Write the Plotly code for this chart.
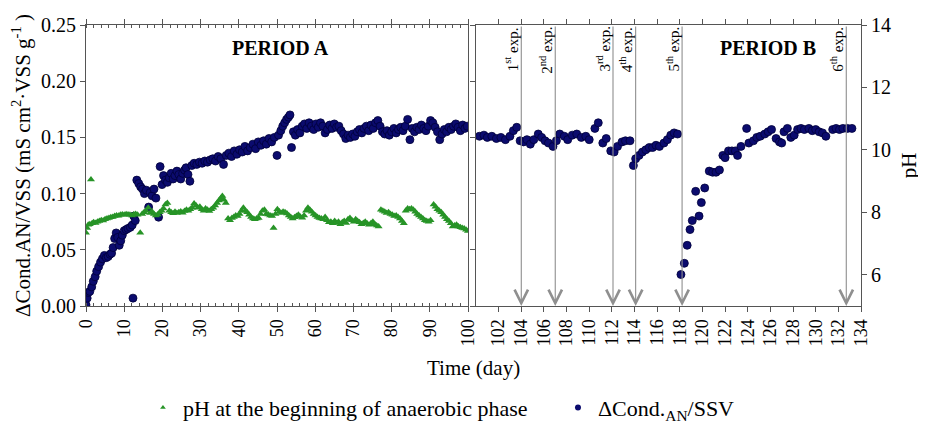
import plotly.graph_objects as go

# ---------------- data ----------------
# Period A: conductivity difference / VSS
days_a_cond = [0.0, 0.3, 0.6, 1.0, 1.5, 1.9, 2.4, 2.8, 3.3, 3.8,
               4.3, 4.8, 5.3, 5.8, 6.3, 6.7, 7.1, 7.5, 7.9, 8.3,
               8.7, 9.1, 9.5, 10.0, 10.5, 11.0, 11.6, 12.1, 12.3, 12.5,
               12.9, 13.3, 13.8, 14.3, 14.8, 15.3, 15.8, 16.4, 16.8, 17.3,
               17.8, 18.3, 19.0, 19.4, 19.9, 20.3, 20.8, 21.3, 21.8, 22.3,
               22.8, 23.3, 23.8, 24.3, 24.8, 25.3, 25.8, 26.2, 26.7, 27.2,
               27.7, 28.3, 29.0, 29.7, 30.4, 31.1, 31.8, 32.5, 33.2, 33.9,
               34.6, 35.3, 36.0, 36.7, 37.4, 38.1, 38.8, 39.5, 40.2, 40.9,
               41.6, 42.3, 43.0, 43.7, 44.4, 45.1, 45.8, 46.5, 47.2, 47.9,
               48.6, 49.3, 50.0, 50.4, 51.0, 51.5, 52.0, 52.5, 53.0, 53.4,
               53.8, 54.3, 54.8, 55.4, 56.0, 56.6, 57.2, 57.8, 58.4, 59.0,
               59.6, 60.2, 60.8, 61.4, 62.0, 62.6, 63.2, 63.8, 64.4, 65.0,
               65.6, 66.2, 66.8, 67.4, 68.0, 68.6, 69.2, 69.8, 70.4, 71.0,
               71.6, 72.2, 72.8, 73.4, 74.0, 74.6, 75.2, 75.8, 76.4, 77.0,
               77.6, 78.2, 78.8, 79.4, 80.0, 80.6, 81.2, 81.8, 82.4, 83.0,
               83.6, 84.2, 84.8, 85.4, 86.0, 86.6, 87.2, 87.8, 88.4, 89.0,
               89.6, 90.2, 90.8, 91.4, 92.0, 92.6, 93.2, 93.8, 94.4, 95.0,
               95.6, 96.2, 96.8, 97.4, 98.0, 98.6, 99.2, 99.8]
cond_a = [0.001, 0.007, 0.012, 0.013, 0.017, 0.022, 0.026, 0.031, 0.035, 0.039,
          0.042, 0.045, 0.043, 0.044, 0.046, 0.047, 0.052, 0.060, 0.065, 0.061,
          0.054, 0.058, 0.063, 0.067, 0.068, 0.069, 0.070, 0.072, 0.007, 0.080,
          0.076, 0.112, 0.109, 0.106, 0.104, 0.100, 0.103, 0.088, 0.101, 0.098,
          0.104, 0.096, 0.079, 0.124, 0.108, 0.116, 0.112, 0.110, 0.114, 0.118,
          0.113, 0.116, 0.120, 0.117, 0.113, 0.118, 0.121, 0.123, 0.117, 0.111,
          0.125, 0.127, 0.126, 0.128, 0.127, 0.129, 0.128, 0.130, 0.131, 0.129,
          0.133, 0.131, 0.126, 0.134, 0.136, 0.133, 0.138, 0.135, 0.139, 0.137,
          0.142, 0.138, 0.141, 0.144, 0.140, 0.146, 0.143, 0.147, 0.144, 0.149,
          0.146, 0.150, 0.134, 0.152, 0.156, 0.160, 0.163, 0.166, 0.168, 0.170,
          0.141, 0.155, 0.152, 0.157, 0.154, 0.160, 0.162, 0.158, 0.163, 0.160,
          0.157, 0.162, 0.159, 0.163, 0.160, 0.154, 0.157, 0.161, 0.158, 0.162,
          0.159, 0.160, 0.156, 0.153, 0.149, 0.152, 0.150, 0.153, 0.151, 0.155,
          0.157, 0.154, 0.158, 0.160, 0.156, 0.161, 0.158, 0.163, 0.165, 0.160,
          0.155, 0.153, 0.156, 0.152, 0.155, 0.158, 0.154, 0.157, 0.159, 0.156,
          0.160, 0.166, 0.148, 0.158, 0.155, 0.159, 0.157, 0.161, 0.158, 0.156,
          0.160, 0.165, 0.163, 0.159, 0.155, 0.148, 0.153, 0.157, 0.155, 0.159,
          0.157, 0.160, 0.162, 0.159, 0.156, 0.161, 0.158, 0.160]

# Period A: pH at the beginning of the anaerobic phase
days_a_ph = [0.0, 0.3, 0.6, 1.0, 1.3, 1.6, 2.0, 2.5, 3.0, 3.5,
             4.0, 4.5, 5.0, 5.5, 6.0, 6.5, 7.0, 7.5, 8.0, 8.5,
             9.0, 9.5, 10.0, 10.5, 11.0, 11.5, 12.0, 12.5, 13.0, 13.5,
             14.2, 14.7, 15.2, 15.7, 16.3, 16.8, 17.3, 17.8, 18.3, 18.8,
             19.3, 19.8, 20.3, 20.8, 21.3, 21.8, 22.3, 22.8, 23.3, 23.8,
             24.3, 24.8, 25.3, 25.8, 26.3, 26.8, 27.3, 27.8, 28.3, 28.8,
             29.3, 29.8, 30.3, 30.8, 31.3, 31.8, 32.3, 32.8, 33.3, 33.8,
             34.3, 34.8, 35.3, 35.7, 36.1, 36.6, 37.2, 37.7, 38.2, 38.7,
             39.2, 39.7, 40.2, 40.7, 41.2, 41.7, 42.2, 42.7, 43.2, 43.7,
             44.2, 44.7, 45.2, 45.7, 46.2, 46.7, 47.2, 47.7, 48.2, 48.7,
             49.1, 49.6, 50.1, 50.6, 51.1, 51.6, 52.1, 52.6, 53.1, 53.6,
             54.1, 54.6, 55.1, 55.6, 56.1, 56.6, 57.1, 57.6, 58.1, 58.6,
             59.1, 59.6, 60.1, 60.6, 61.1, 61.6, 62.1, 62.6, 63.1, 63.6,
             64.1, 64.6, 65.1, 65.6, 66.1, 66.6, 67.1, 67.6, 68.1, 68.6,
             69.1, 69.6, 70.1, 70.6, 71.1, 71.6, 72.1, 72.6, 73.1, 73.6,
             74.1, 74.6, 75.1, 75.6, 76.1, 76.6, 77.2, 77.7, 78.2, 78.7,
             79.2, 79.7, 80.2, 80.7, 81.2, 81.7, 82.2, 82.7, 83.2, 83.7,
             84.2, 84.7, 85.2, 85.7, 86.2, 86.7, 87.2, 87.7, 88.2, 88.7,
             89.2, 89.7, 90.2, 91.0, 91.5, 92.0, 92.5, 93.0, 93.5, 94.0,
             94.5, 95.0, 95.5, 96.0, 96.5, 97.0, 97.5, 98.0, 98.5, 99.0, 99.5, 100.0]
ph_a = [7.35, 7.50, 7.60, 7.62, 9.05, 7.65, 7.68, 7.66, 7.70, 7.72,
        7.75, 7.74, 7.78, 7.80, 7.82, 7.84, 7.85, 7.88, 7.90, 7.89,
        7.92, 7.93, 7.92, 7.94, 7.93, 7.92, 7.90, 7.93, 7.95, 7.92,
        7.35, 7.95, 8.00, 8.05, 8.15, 7.98, 8.02, 7.95, 7.90, 7.93,
        8.00, 8.05, 8.12, 8.25, 8.30, 8.05, 8.00, 7.97, 8.02, 7.98,
        8.00, 8.03, 7.99, 8.04, 8.08, 8.05, 8.10, 8.15, 8.28, 8.22,
        8.15, 8.18, 8.10, 8.05, 8.12, 8.08, 8.04, 8.10, 8.15, 8.22,
        8.30, 8.38, 8.45, 8.52, 8.40, 8.30, 7.80, 7.75, 7.82, 7.85,
        7.90, 7.88, 7.95, 8.05, 8.15, 8.05, 8.00, 7.92, 7.85, 7.80,
        7.78, 7.80, 7.82, 7.95, 8.05, 8.08, 7.95, 7.93, 7.90, 7.88,
        7.50, 7.95, 8.10, 8.03, 7.98, 8.02, 8.00, 7.96, 7.90, 7.85,
        7.80, 7.84, 7.88, 7.92, 7.86, 7.83, 7.90, 8.05, 8.15, 8.08,
        8.02, 7.95, 7.90, 7.85, 7.82, 7.80, 7.78, 7.85, 7.75, 7.68,
        7.70, 7.65, 7.72, 7.66, 7.70, 7.62, 7.68, 7.72, 7.66, 7.78,
        7.82, 7.75, 7.70, 7.78, 7.72, 7.68, 7.62, 7.66, 7.70, 7.64,
        7.60, 7.65, 7.70, 7.62, 7.58, 7.55, 8.08, 8.05, 8.02, 7.98,
        8.00, 7.95, 7.92, 7.88, 7.90, 7.85, 7.80, 7.72, 7.65, 8.05,
        8.12, 8.10, 8.12, 8.08, 8.02, 7.95, 7.90, 7.85, 7.80, 7.75,
        7.72, 7.70, 7.75, 8.25, 8.18, 8.10, 8.05, 8.00, 7.92, 7.85,
        7.78, 7.72, 7.65, 7.55, 7.58, 7.60, 7.55, 7.52, 7.50, 7.48, 7.44, 7.40]

# Period B: conductivity difference / VSS
days_b_cond = [100.3, 100.7, 101.0, 101.4, 101.8, 102.2, 102.6, 103.0, 103.3, 103.6,
               103.9, 104.2, 104.5, 104.8, 105.1, 105.5, 105.8, 106.1, 106.4, 106.8,
               107.1, 107.4, 107.8, 108.1, 108.5, 108.9, 109.3, 109.7, 110.0, 110.5,
               110.8, 111.2, 111.5, 111.9, 112.2, 112.5, 112.9, 113.2, 113.6, 113.9,
               114.1, 114.4, 114.7, 115.0, 115.3, 115.6, 115.9, 116.2, 116.6, 116.9,
               117.2, 117.5, 117.8, 118.1, 118.4, 118.65, 118.9, 119.1, 119.4, 119.7,
               119.9, 120.2, 120.6, 120.9, 121.2, 121.5, 121.8, 122.0, 122.3, 122.6,
               122.9, 123.1, 123.4, 123.9, 124.1, 124.5, 124.8, 125.1, 125.5, 125.8,
               126.1, 126.5, 126.8, 127.0, 127.2, 127.5, 127.8, 128.1, 128.4, 128.7,
               129.0, 129.4, 129.7, 130.0, 130.3, 130.6, 130.9, 131.5, 131.8, 132.1,
               132.4, 132.8, 133.2]
cond_b = [0.151, 0.152, 0.150, 0.151, 0.149, 0.150, 0.148, 0.151, 0.156, 0.159,
          0.147, 0.146, 0.148, 0.144, 0.148, 0.153, 0.150, 0.147, 0.145, 0.142,
          0.147, 0.153, 0.151, 0.148, 0.152, 0.153, 0.150, 0.151, 0.148, 0.158,
          0.163, 0.145, 0.149, 0.138, 0.137, 0.142, 0.146, 0.147, 0.147, 0.125,
          0.131, 0.134, 0.137, 0.139, 0.141, 0.141, 0.143, 0.142, 0.145, 0.148,
          0.152, 0.154, 0.153, 0.028, 0.038, 0.054, 0.068, 0.076, 0.102, 0.080,
          0.092, 0.105, 0.120, 0.119, 0.119, 0.121, 0.134, 0.132, 0.138, 0.138,
          0.138, 0.134, 0.142, 0.158, 0.145, 0.147, 0.150, 0.151, 0.153, 0.155,
          0.157, 0.149, 0.146, 0.145, 0.155, 0.158, 0.150, 0.152, 0.157, 0.158,
          0.157, 0.158, 0.156, 0.157, 0.155, 0.154, 0.151, 0.157, 0.158, 0.157,
          0.158, 0.158, 0.158]

# Period B: pH at the beginning of the anaerobic phase
days_b_ph = [100.3, 100.7, 101.1, 101.5, 101.9, 102.3, 102.7, 103.1, 103.4, 103.7,
             104.0, 104.3, 104.6, 104.9, 105.2, 105.5, 105.8, 106.1, 106.4, 106.7,
             107.0, 107.2, 107.5, 107.8, 108.1, 108.4, 108.7, 109.0, 109.3, 109.6,
             109.9, 110.2, 110.5, 110.8, 111.1, 111.4, 111.7, 112.0, 112.3, 112.6,
             112.9, 113.2, 113.5, 113.8, 114.0, 114.2, 114.5, 114.8, 115.1, 115.4,
             115.7, 116.0, 116.3, 116.6, 116.9, 117.2, 117.5, 117.8, 118.1, 118.4,
             118.7, 119.0, 119.3, 119.6, 119.9, 120.1, 120.6, 120.9, 121.2, 121.5,
             121.8, 122.1, 122.4, 122.7, 123.0, 123.3, 123.6, 123.9, 124.2, 124.5,
             124.8, 125.1, 125.4, 125.7, 126.0, 126.3, 126.6, 126.9, 127.2, 127.6,
             127.9, 128.2, 128.5, 128.8, 129.1, 129.4, 129.7, 130.0, 130.3, 130.6,
             130.9, 131.2, 133.1]
ph_b = [7.45, 7.42, 7.40, 7.38, 7.40, 7.36, 7.35, 7.33, 7.28, 7.18,
        7.42, 7.35, 7.55, 7.58, 7.57, 7.58, 7.56, 7.55, 7.52, 7.50,
        7.58, 7.82, 7.48, 7.46, 7.47, 7.45, 7.42, 7.43, 7.42, 7.42,
        7.43, 7.42, 7.45, 7.47, 7.52, 7.48, 7.47, 7.50, 7.48, 7.46,
        7.52, 7.48, 7.45, 7.46, 7.30, 7.98, 7.62, 7.65, 7.63, 7.55,
        7.48, 7.52, 7.45, 7.36, 7.42, 7.40, 7.38, 7.35, 7.45, 7.50,
        7.48, 7.55, 7.52, 7.72, 7.50, 7.62, 8.42, 7.83, 7.52, 7.55,
        7.55, 7.55, 7.53, 7.52, 7.50, 7.48, 7.52, 7.45, 7.38, 7.36,
        7.35, 7.38, 7.42, 7.45, 7.48, 7.50, 7.52, 7.80, 7.88, 8.18,
        8.12, 8.08, 8.02, 7.98, 7.92, 7.88, 7.80, 7.82, 7.80, 7.78,
        7.76, 7.78, 7.42]

# experiment markers (day)
exp_days = [104.0, 107.0, 112.1, 114.1, 118.2, 132.7]
exp_labels = ["1<sup>st</sup> exp.", "2<sup>nd</sup> exp.", "3<sup>rd</sup> exp.",
              "4<sup>th</sup> exp.", "5<sup>th</sup> exp.", "6<sup>th</sup> exp."]

xticks_a = [0, 10, 20, 30, 40, 50, 60, 70, 80, 90, 100]
xticks_b = [102, 104, 106, 108, 110, 112, 114, 116, 118, 120, 122, 124, 126, 128, 130, 132, 134]
yticks_cond = [0.00, 0.05, 0.10, 0.15, 0.20, 0.25]
yticks_ph = [6, 8, 10, 12, 14]

# ---------------- styling ----------------
FONT = "Liberation Serif"
NAVY = "#0b0b6e"
GREEN = "#279427"
GRAY = "#8f8f8f"
AXC = "#555555"

fig = go.Figure()

cond_marker = dict(symbol="circle", size=8, color=NAVY, line=dict(color="#00003a", width=0.8))
ph_marker = dict(symbol="triangle-up", size=7, color=GREEN, line=dict(width=0))

fig.add_trace(go.Scatter(x=days_a_ph, y=ph_a, mode="markers", marker=ph_marker,
                         xaxis="x", yaxis="y2", showlegend=False))
fig.add_trace(go.Scatter(x=days_a_cond, y=cond_a, mode="markers", marker=cond_marker,
                         xaxis="x", yaxis="y", showlegend=False))
fig.add_trace(go.Scatter(x=days_b_ph, y=ph_b, mode="markers", marker=ph_marker,
                         xaxis="x2", yaxis="y2", showlegend=False))
fig.add_trace(go.Scatter(x=days_b_cond, y=cond_b, mode="markers", marker=cond_marker,
                         xaxis="x2", yaxis="y3", showlegend=False))

# legend-only entries (small symbols, as in the original legend)
fig.add_trace(go.Scatter(x=[None], y=[None], mode="markers",
                         marker=dict(symbol="triangle-up", size=5, color=GREEN),
                         name="pH at the beginning of anaerobic phase", legend="legend"))
fig.add_trace(go.Scatter(x=[None], y=[None], mode="markers",
                         marker=dict(symbol="circle", size=6, color=NAVY),
                         name="ΔCond.<sub>AN</sub>/SSV", legend="legend2"))

annotations = []
for d, lab in zip(exp_days, exp_labels):
    annotations.append(dict(x=d, y=0.0, xref="x2", yref="y3",
                            ax=d, ay=0.25, axref="x2", ayref="y3",
                            text="", showarrow=True, arrowhead=5, arrowsize=2.4,
                            arrowwidth=1.1, arrowcolor=GRAY))
    annotations.append(dict(x=d, y=0.25, xref="x2", yref="y3", text=lab,
                            textangle=-90, xanchor="right", yanchor="top",
                            xshift=1, yshift=0, showarrow=False,
                            font=dict(family=FONT, size=15, color="black")))

annotations.append(dict(x=51, y=0.2295, xref="x", yref="y", text="<b>PERIOD A</b>",
                        showarrow=False, font=dict(family=FONT, size=20, color="black")))
annotations.append(dict(x=125.8, y=0.2295, xref="x2", yref="y3", text="<b>PERIOD B</b>",
                        showarrow=False, font=dict(family=FONT, size=20, color="black")))
annotations.append(dict(x=0.5, y=-0.222, xref="paper", yref="paper", text="Time (day)",
                        yanchor="middle", xanchor="center",
                        showarrow=False, font=dict(family=FONT, size=21, color="black")))

axis_common = dict(showgrid=False, zeroline=False, showline=True, linecolor=AXC,
                   linewidth=1, tickcolor=AXC, automargin=False)

fig.update_layout(
    width=918, height=416,
    margin=dict(l=78, r=65, t=17, b=118, autoexpand=False),
    paper_bgcolor="white", plot_bgcolor="white",
    font=dict(family=FONT, size=17, color="black"),
    xaxis=dict(domain=[0, 0.4929], range=[0, 100], tickmode="array", tickvals=xticks_a,
               ticktext=[str(v) for v in xticks_a],
               ticks="outside", ticklen=5, tickangle=-90, mirror="ticks",
               minor=dict(dtick=2, ticks="inside", ticklen=3, tickcolor=AXC),
               tickfont=dict(size=18), anchor="y", **axis_common),
    xaxis2=dict(domain=[0.5032, 1], range=[100, 134], tickmode="array", tickvals=xticks_b,
                ticktext=[str(v) for v in xticks_b],
                ticks="outside", ticklen=5, tickangle=-90, mirror="ticks",
                minor=dict(dtick=0.5, ticks="inside", ticklen=3, tickcolor=AXC),
                tickfont=dict(size=18), anchor="y3", **axis_common),
    yaxis=dict(range=[0, 0.25], tickvals=yticks_cond, tickformat=".2f",
               ticks="outside", ticklen=5, mirror=True, anchor="x",
               tickfont=dict(size=20),
               title=dict(text="ΔCond.AN/VSS (mS cm<sup>2</sup>·VSS g<sup>-1</sup> )",
                          font=dict(size=21), standoff=6),
               **axis_common),
    yaxis3=dict(range=[0, 0.25], tickvals=yticks_cond, ticks="outside", ticklen=5,
                showticklabels=False, anchor="x2", overlaying="y", side="left",
                **axis_common),
    yaxis2=dict(range=[5, 14], tickvals=yticks_ph, ticks="outside", ticklen=5,
                anchor="x2", overlaying="y", side="right", tickfont=dict(size=20),
                title=dict(text="pH", font=dict(size=21), standoff=11),
                **axis_common),
    annotations=annotations,
    showlegend=True,
    legend=dict(orientation="h", x=0.0735, y=-0.362, xanchor="left", yanchor="middle",
                font=dict(family=FONT, size=22), bgcolor="rgba(0,0,0,0)"),
    legend2=dict(orientation="h", x=0.609, y=-0.362, xanchor="left", yanchor="middle",
                 font=dict(family=FONT, size=22), bgcolor="rgba(0,0,0,0)"),
)

fig.write_html("out.html")
